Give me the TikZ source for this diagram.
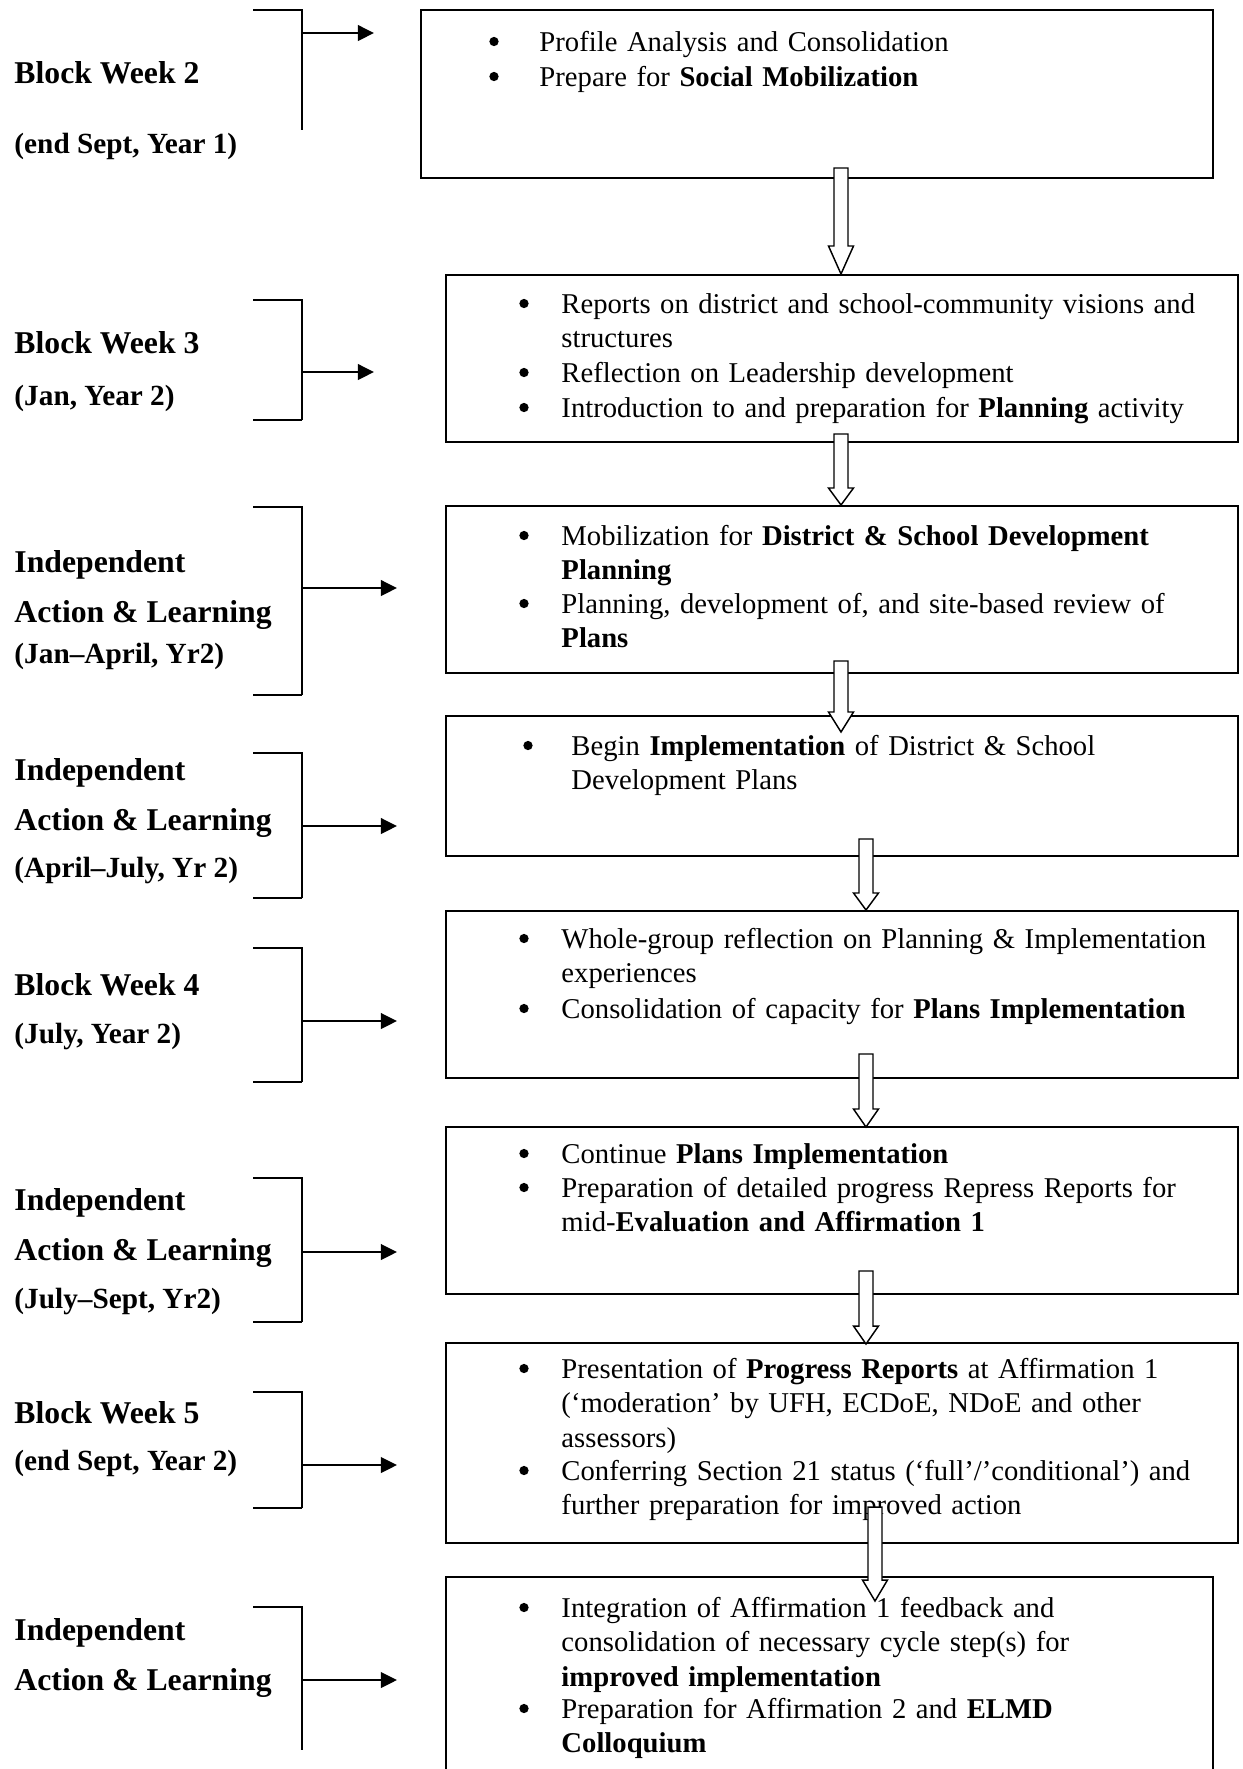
\documentclass[tikz,border=0pt]{standalone}
\usepackage{fontspec}
\setmainfont{Liberation Serif}
\usetikzlibrary{fit,arrows.meta}

% one bulleted item: name, bullet x, text x, baseline y, text
\newcommand\bul[5]{%
  \node[dot] (#1d) at (#2,{#4-9.5}) {};
  \node[item] (#1) at (#3,#4) {#5};}
% hollow block arrow: name, centre x, top, head base, tip
\newcommand\hollowarrow[5]{%
  \coordinate (#1s) at (#2,#3);
  \coordinate (#1t) at (#2,#5);
  \draw[hollow] ({#2-7},#3) -- ({#2+7},#3) -- ({#2+7},#4) -- ({#2+12.5},#4)
    -- (#1t) -- ({#2-12.5},#4) -- ({#2-7},#4) -- cycle;}
% bracket with pointer: name, top, bottom (or empty), vertical end, arrow y, arrow end x
\newcommand\bracket[6]{%
  \coordinate (#1a) at (253,#2);
  \coordinate (#1b) at (302,#2);
  \coordinate (#1c) at (302,#4);
  \coordinate (#1p) at (302,#5);
  \coordinate (#1q) at (#6,#5);
  \draw[brk] (#1a) -- (#1b) -- (#1c);
  \ifx&#3&\else\draw[brk] (302,#3) -- (253,#3);\fi
  \draw[pointer] (#1p) -- (#1q);}

\begin{document}
\begin{tikzpicture}[x=0.41pt,y=-0.41pt,
  box/.style={draw, line width=0.8pt, inner sep=0pt},
  brk/.style={line width=0.8pt},
  pointer/.style={brk, -{Triangle[length=6.6pt,width=6.4pt]}},
  hollow/.style={draw, fill=white, line width=0.6pt, line join=miter},
  item/.style={anchor=base west, inner sep=0pt, text width=330pt, align=left,
    font=\fontsize{11.75}{14.15}\selectfont},
  lbl/.style={anchor=base west, inner sep=0pt, font=\fontsize{13}{15}\selectfont\bfseries},
  dt/.style={anchor=base west, inner sep=0pt, font=\fontsize{12}{14}\selectfont\bfseries},
  dot/.style={fill=black, circle, inner sep=0pt, minimum size=3.8pt},
]
\useasboundingbox (0,0) rectangle (1243,1769);
\clip (0,0) rectangle (1243,1769);
\fill[white] (0,0) rectangle (1243,1769);

% activity boxes
\node[box, fit={(421,10) (1213,178)}] (b1) {};
\node[box, fit={(446,275) (1238,442)}] (b2) {};
\node[box, fit={(446,506) (1238,673)}] (b3) {};
\node[box, fit={(446,716) (1238,856)}] (b4) {};
\node[box, fit={(446,911) (1238,1078)}] (b5) {};
\node[box, fit={(446,1127) (1238,1294)}] (b6) {};
\node[box, fit={(446,1343) (1238,1543)}] (b7) {};
\node[box, fit={(446,1577) (1213,1800)}] (b8) {};

% box contents
\bul{t1a}{494}{539}{51}{Profile Analysis and Consolidation}
\bul{t1b}{494}{539}{86}{Prepare for \textbf{Social Mobilization}}

\bul{t2a}{524}{561}{313}{Reports on district and school-community visions and\\structures}
\bul{t2b}{524}{561}{382}{Reflection on Leadership development}
\bul{t2c}{524}{561}{417}{Introduction to and preparation for \textbf{Planning} activity}

\bul{t3a}{524}{561}{545}{Mobilization for \textbf{District \& School Development}\\\textbf{Planning}}
\bul{t3b}{524}{561}{613}{Planning, development of, and site-based review of\\\textbf{Plans}}

\bul{t4a}{528}{571}{755}{Begin \textbf{Implementation} of District \& School\\Development Plans}

\bul{t5a}{524}{561}{948}{Whole-group reflection on Planning \& Implementation\\experiences}
\bul{t5b}{524}{561}{1018}{Consolidation of capacity for \textbf{Plans Implementation}}

\bul{t6a}{524}{561}{1163}{Continue \textbf{Plans Implementation}}
\bul{t6b}{524}{561}{1197}{Preparation of detailed progress Repress Reports for\\mid-\textbf{Evaluation and Affirmation 1}}

\bul{t7a}{524}{561}{1378}{Presentation of \textbf{Progress Reports} at Affirmation 1\\(‘moderation’ by UFH, ECDoE, NDoE and other\\assessors)}
\bul{t7b}{524}{561}{1480}{Conferring Section 21 status (‘full’/’conditional’) and\\further preparation for improved action}

\bul{t8a}{524}{561}{1617}{Integration of Affirmation 1 feedback and\\consolidation of necessary cycle step(s) for\\\textbf{improved implementation}}
\bul{t8b}{524}{561}{1718}{Preparation for Affirmation 2 and \textbf{ELMD}\\\textbf{Colloquium}}

% block arrows between the boxes
\hollowarrow{h1}{841}{168}{246}{274}
\hollowarrow{h2}{841}{434}{488}{505}
\hollowarrow{h3}{841}{661}{712}{732}
\hollowarrow{h4}{866}{839}{893}{910}
\hollowarrow{h5}{866}{1054}{1109}{1127}
\hollowarrow{h6}{866}{1271}{1326}{1344}
\hollowarrow{h7}{875}{1507}{1580}{1601}

% period labels
\node[lbl] (l1a) at (14,83) {Block Week 2};
\node[dt]  (l1b) at (14,153) {(end Sept, Year 1)};
\node[lbl] (l2a) at (14,353) {Block Week 3};
\node[dt]  (l2b) at (14,405) {(Jan, Year 2)};
\node[lbl] (l3a) at (14,572) {Independent};
\node[lbl] (l3b) at (14,622) {Action \& Learning};
\node[dt]  (l3c) at (14,663) {(Jan–April, Yr2)};
\node[lbl] (l4a) at (14,780) {Independent};
\node[lbl] (l4b) at (14,830) {Action \& Learning};
\node[dt]  (l4c) at (14,877) {(April–July, Yr 2)};
\node[lbl] (l5a) at (14,995) {Block Week 4};
\node[dt]  (l5b) at (14,1043) {(July, Year 2)};
\node[lbl] (l6a) at (14,1210) {Independent};
\node[lbl] (l6b) at (14,1260) {Action \& Learning};
\node[dt]  (l6c) at (14,1308) {(July–Sept, Yr2)};
\node[lbl] (l7a) at (14,1423) {Block Week 5};
\node[dt]  (l7b) at (14,1470) {(end Sept, Year 2)};
\node[lbl] (l8a) at (14,1640) {Independent};
\node[lbl] (l8b) at (14,1690) {Action \& Learning};

% brackets with pointers
\bracket{k1}{10}{}{130}{33}{374}
\bracket{k2}{300}{420}{420}{372}{374}
\bracket{k3}{507}{695}{695}{588}{397}
\bracket{k4}{753}{898}{898}{826}{397}
\bracket{k5}{948}{1082}{1082}{1021}{397}
\bracket{k6}{1178}{1322}{1322}{1252}{397}
\bracket{k7}{1392}{1508}{1508}{1465}{397}
\bracket{k8}{1607}{}{1750}{1680}{397}
\end{tikzpicture}
\end{document}
